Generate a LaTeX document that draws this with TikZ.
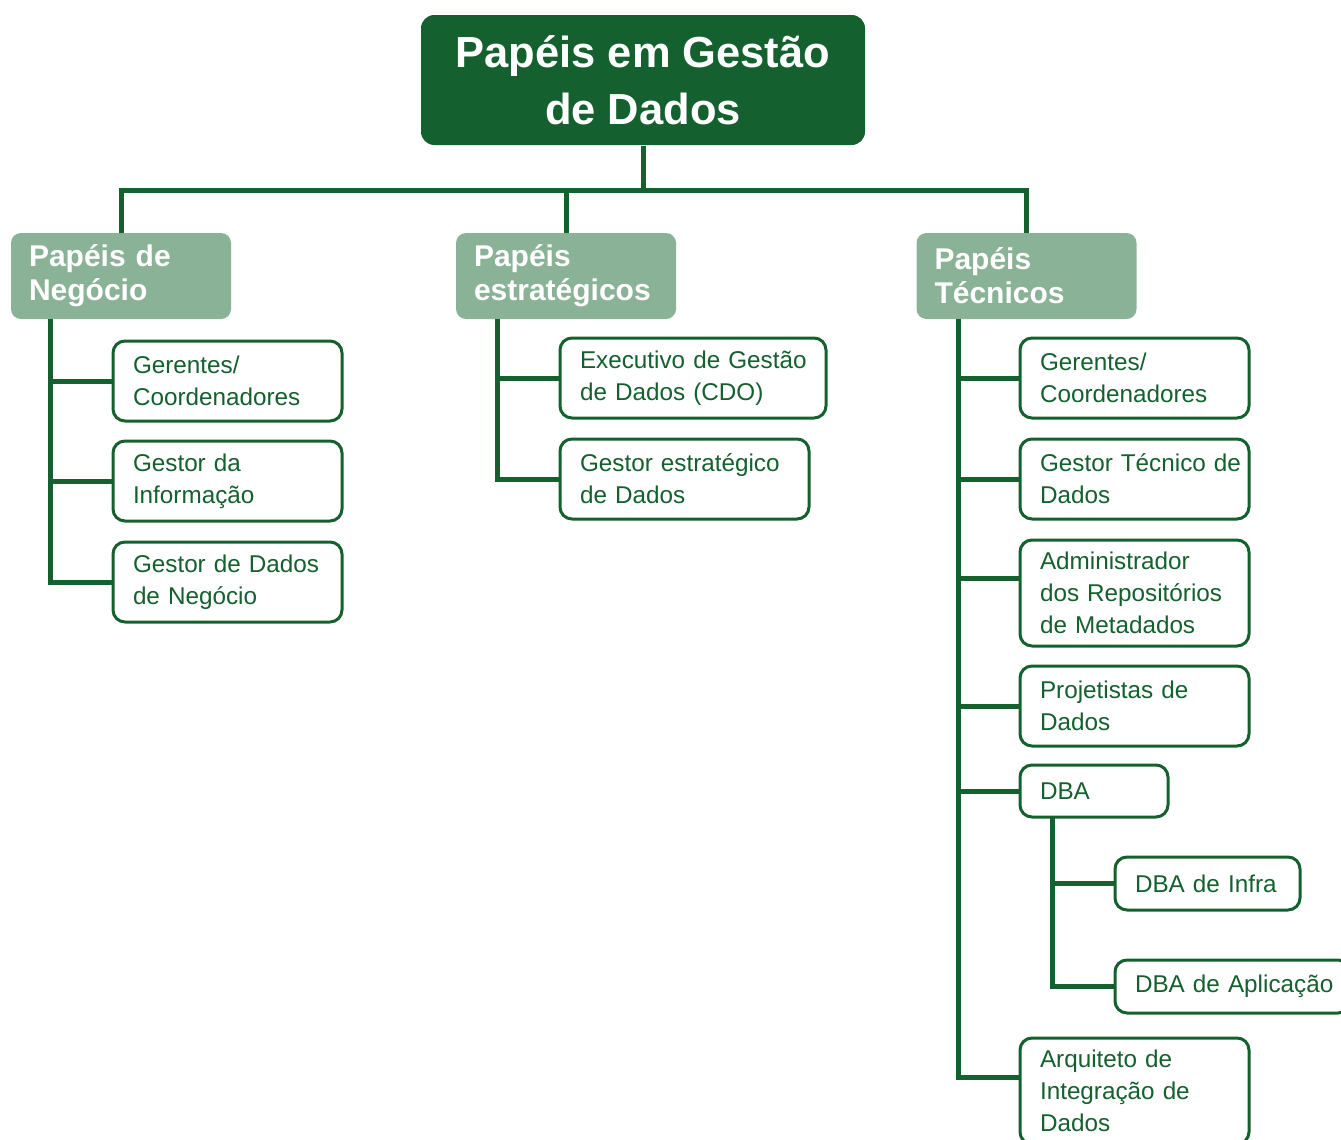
\documentclass[tikz,border=0pt]{standalone}
\usepackage{fontspec}
\setmainfont{Liberation Sans}
\hyphenpenalty=10000
\exhyphenpenalty=10000

\definecolor{verde}{RGB}{20,96,46}
\definecolor{verdeclaro}{RGB}{138,178,150}

\tikzset{every picture/.style={line width=0.75pt},
  tronco/.style={draw=verde, line width=3.75pt},
  titulo/.style={fill=verde, rounded corners=10pt, text=white, align=center, inner sep=0pt,
    minimum width=333pt, minimum height=97.5pt, font=\bfseries\fontsize{32.6}{43}\selectfont},
  grupo/.style={fill=verdeclaro, rounded corners=7.5pt, text=white, align=left, inner xsep=13.5pt, inner ysep=0pt,
    text width=138pt, minimum height=64.5pt, font=\bfseries\fontsize{22.5}{25.5}\selectfont},
  papel/.style={draw=verde, fill=white, line width=2.25pt, rounded corners=9pt, text=verde, align=left,
    inner xsep=15pt, inner ysep=0pt, text width=141.75pt, minimum height=60pt,
    font=\fontsize{18.2}{24}\selectfont}
}

\begin{document}
\begin{tikzpicture}[x=0.75pt,y=0.75pt,yscale=-1,xscale=1]
    \useasboundingbox (0,0) rectangle (1341,1139);
    \clip (0,0) rectangle (1341,1139);

    % Title
    \node [titulo] (raiz) at (643,80) {Papéis em Gestão\\de Dados};

    % Groups
    \node [grupo] (neg) at (121,276) {Papéis de\\Negócio};
    \node [grupo] (est) at (566,276) {Papéis\\estratégicos};
    \node [grupo] (tec) at (1026.5,276) {Papéis\\Técnicos};

    \coordinate (barra) at (0,190);
    \draw [tronco] (raiz.south) -- (raiz.south |- barra);
    \draw [tronco] (neg.north) -- (neg.north |- barra) -- (tec.north |- barra) -- (tec.north);
    \draw [tronco] (est.north) -- (est.north |- barra);

    % Papeis de negocio
    \node [papel] (neg1) at (227.5,381) {Gerentes/\\Coordenadores};
    \node [papel] (neg2) at (227.5,481) {Gestor~da\\Informação};
    \node [papel] (neg3) at (227.5,582) {Gestor~de~Dados\\de~Negócio};

    \coordinate (negT) at (50,319);
    \draw [tronco] (negT) |- (neg3.west);
    \draw [tronco] (negT |- neg1.west) -- (neg1.west);
    \draw [tronco] (negT |- neg2.west) -- (neg2.west);

    % Papeis estrategicos
    \node [papel, text width=169.5pt] (est1) at (693,378) {Executivo~de~Gestão\\de~Dados~(CDO)};
    \node [papel, text width=156.75pt] (est2) at (684.5,479) {Gestor~estratégico\\de~Dados};

    \coordinate (estT) at (497,319);
    \draw [tronco] (estT) |- (est2.west);
    \draw [tronco] (estT |- est1.west) -- (est1.west);

    % Papeis tecnicos
    \node [papel] (tec1) at (1134.5,378) {Gerentes/\\Coordenadores};
    \node [papel] (tec2) at (1134.5,479) {Gestor~Técnico~de\\Dados};
    \node [papel, minimum height=79.5pt] (tec3) at (1134.5,593) {Administrador\\dos~Repositórios\\de~Metadados};
    \node [papel] (tec4) at (1134.5,706) {Projetistas~de\\Dados};
    \node [papel, text width=81pt, minimum height=39pt] (dba) at (1094,791) {DBA};
    \node [papel, minimum height=79.5pt] (tec6) at (1134.5,1091) {Arquiteto~de\\Integração~de\\Dados};

    \coordinate (tec3e) at ([yshift=-11.25pt]tec3.west);
    \coordinate (tec6e) at ([yshift=-10.5pt]tec6.west);
    \coordinate (tecT) at (958,319);
    \draw [tronco] (tecT) |- (tec6e);
    \draw [tronco] (tecT |- tec1.west) -- (tec1.west);
    \draw [tronco] (tecT |- tec2.west) -- (tec2.west);
    \draw [tronco] (tecT |- tec3e) -- (tec3e);
    \draw [tronco] (tecT |- tec4.west) -- (tec4.west);
    \draw [tronco] (tecT |- dba.west) -- (dba.west);

    % DBA
    \node [papel, text width=108.75pt, minimum height=39.75pt] (dba1) at (1207.5,883.5) {DBA~de~Infra};
    \node [papel, text width=146.25pt, minimum height=39.75pt] (dba2) at (1232.5,986.5) {DBA~de~Aplicação};

    \coordinate (dbaT) at (1052,817);
    \draw [tronco] (dbaT) |- (dba2.west);
    \draw [tronco] (dbaT |- dba1.west) -- (dba1.west);
\end{tikzpicture}
\end{document}
